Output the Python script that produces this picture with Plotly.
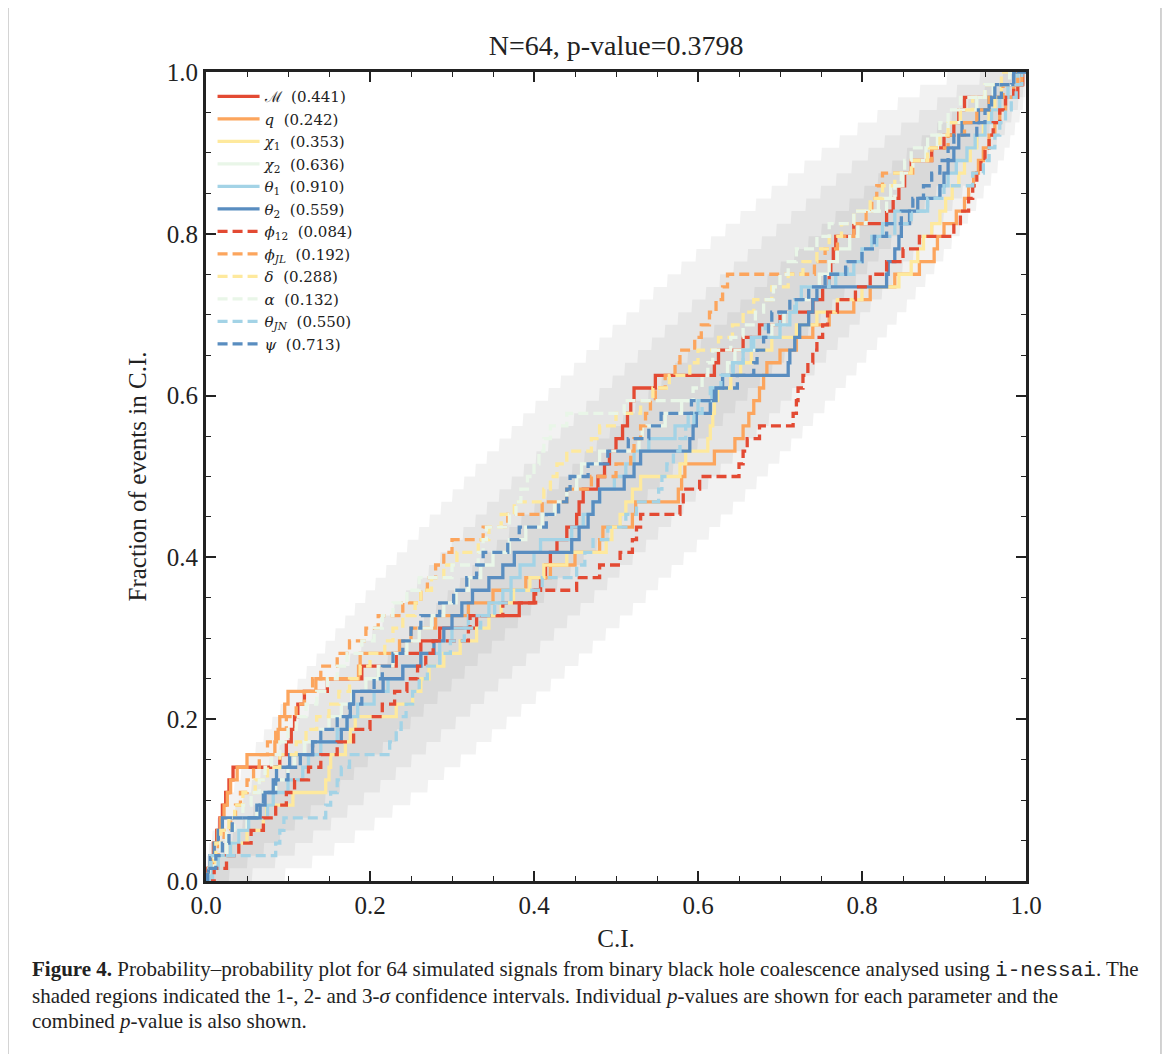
import numpy as np
import plotly.graph_objects as go
from math import comb

# Credible-interval values of the 64 injections, per parameter
n_events = 64
pvalue_total = 0.3798

names = ["ℳ", "<i>q</i>", "<i>χ</i><sub>1</sub>", "<i>χ</i><sub>2</sub>",
         "<i>θ</i><sub>1</sub>", "<i>θ</i><sub>2</sub>", "<i>ϕ</i><sub>12</sub>",
         "<i>ϕ</i><sub><i>JL</i></sub>", "<i>δ</i>", "<i>α</i>",
         "<i>θ</i><sub><i>JN</i></sub>", "<i>ψ</i>"]
pvalues = [0.441, 0.242, 0.353, 0.636, 0.910, 0.559, 0.084, 0.192, 0.288, 0.132, 0.550, 0.713]

ci_chirp_mass = [.002, .006, .009, .013, .017, .020, .024, .028, .033, .090, .098, .104, .108, .112, .120, .148,
                 .190, .232, .262, .285, .330, .382, .400, .408, .414, .420, .428, .440, .452, .455, .460, .478,
                 .486, .492, .500, .508, .514, .518, .522, .548, .620, .625, .655, .675, .700, .740, .752, .760,
                 .762, .765, .768, .790, .830, .838, .845, .852, .860, .885, .900, .912, .918, .925, .990, .996]
ci_q = [.004, .008, .010, .014, .018, .022, .026, .030, .038, .050, .084, .088, .090, .096, .100, .134,
        .186, .188, .236, .250, .280, .320, .350, .390, .420, .450, .480, .484, .520, .524, .576, .580,
        .584, .620, .645, .655, .662, .668, .675, .680, .684, .700, .720, .740, .760, .790, .810, .840,
        .870, .888, .892, .900, .915, .925, .930, .936, .942, .948, .955, .962, .968, .975, .985, .995]
ci_chi1 = [.003, .010, .030, .050, .070, .074, .106, .146, .150, .152, .170, .176, .182, .232, .252, .262,
           .272, .290, .310, .330, .345, .360, .375, .395, .412, .440, .488, .495, .505, .512, .520, .530,
           .578, .585, .612, .615, .618, .620, .624, .640, .652, .665, .690, .720, .745, .770, .800, .845,
           .860, .868, .875, .885, .895, .902, .910, .918, .925, .932, .940, .948, .955, .962, .970, .985]
ci_chi2 = [.005, .015, .025, .040, .050, .062, .070, .085, .100, .108, .120, .140, .150, .165, .178, .195,
           .210, .228, .245, .260, .275, .290, .305, .320, .335, .350, .370, .390, .410, .425, .440, .452,
           .458, .480, .528, .532, .560, .580, .620, .630, .636, .645, .668, .690, .705, .720, .735, .748,
           .760, .770, .785, .795, .805, .820, .835, .850, .862, .878, .892, .905, .920, .940, .960, .985]
ci_theta1 = [.008, .015, .030, .040, .052, .075, .082, .100, .118, .125, .140, .160, .172, .185, .205, .222,
             .240, .262, .285, .300, .320, .345, .362, .372, .383, .400, .408, .446, .460, .472, .480, .498,
             .512, .522, .540, .572, .588, .600, .617, .630, .643, .655, .665, .700, .712, .720, .726, .768,
             .790, .800, .812, .825, .840, .880, .895, .905, .915, .928, .938, .950, .958, .968, .978, .990]
ci_theta2 = [.003, .005, .010, .015, .020, .066, .072, .082, .086, .102, .130, .165, .172, .176, .180, .216,
             .240, .262, .278, .290, .300, .312, .325, .345, .362, .376, .446, .455, .466, .472, .480, .510,
             .522, .530, .590, .594, .598, .615, .622, .630, .710, .712, .718, .724, .735, .740, .745, .830,
             .832, .840, .845, .848, .858, .868, .895, .900, .905, .912, .918, .922, .942, .955, .962, .985]
ci_phi12 = [.010, .025, .040, .055, .070, .085, .098, .108, .125, .140, .160, .180, .200, .215, .230, .245,
            .258, .268, .277, .320, .322, .362, .402, .452, .480, .505, .520, .525, .530, .578, .582, .602,
            .650, .655, .660, .675, .716, .720, .722, .728, .734, .740, .745, .752, .758, .770, .792, .810,
            .830, .850, .870, .912, .920, .930, .935, .940, .945, .950, .955, .960, .968, .975, .985, .995]
ci_phiJL = [.003, .008, .015, .022, .030, .036, .042, .050, .058, .065, .075, .085, .098, .110, .120, .130,
            .140, .160, .175, .195, .210, .240, .262, .270, .280, .290, .300, .338, .368, .410, .440, .470,
            .500, .518, .522, .530, .536, .542, .548, .560, .572, .578, .596, .604, .614, .622, .630, .636,
            .742, .755, .770, .790, .805, .812, .818, .825, .862, .885, .905, .925, .940, .955, .972, .990]
ci_delta = [.002, .006, .012, .018, .028, .035, .045, .060, .075, .090, .110, .122, .135, .150, .162, .175,
            .188, .200, .218, .228, .240, .255, .262, .275, .290, .306, .332, .345, .360, .376, .412, .420,
            .428, .440, .470, .480, .500, .530, .545, .565, .590, .600, .625, .642, .655, .668, .690, .710,
            .728, .745, .760, .775, .790, .810, .825, .840, .860, .880, .895, .905, .920, .935, .950, .970]
ci_alpha = [.004, .010, .018, .025, .034, .045, .055, .065, .072, .080, .090, .100, .110, .122, .135, .148,
            .160, .172, .190, .205, .215, .228, .245, .260, .300, .332, .338, .342, .370, .378, .384, .392,
            .400, .406, .412, .420, .440, .510, .594, .605, .612, .618, .640, .655, .670, .680, .692, .700,
            .710, .720, .745, .760, .790, .830, .840, .848, .852, .860, .880, .895, .905, .920, .950, .980]
ci_thetaJN = [.004, .006, .085, .090, .095, .146, .152, .160, .165, .175, .224, .232, .238, .244, .252, .260,
              .270, .285, .298, .315, .335, .352, .372, .410, .452, .462, .472, .490, .512, .525, .552, .556,
              .562, .570, .578, .585, .595, .605, .615, .628, .642, .655, .668, .682, .700, .718, .735, .760,
              .782, .800, .818, .840, .860, .880, .900, .935, .948, .955, .962, .968, .975, .982, .988, .995]
ci_psi = [.002, .012, .020, .028, .032, .062, .070, .085, .100, .115, .130, .140, .160, .175, .190, .205,
          .215, .228, .240, .250, .262, .285, .302, .318, .330, .338, .368, .382, .415, .430, .440, .444,
          .466, .490, .515, .540, .555, .592, .620, .648, .668, .672, .680, .686, .690, .712, .735, .755,
          .780, .800, .815, .830, .848, .862, .875, .885, .895, .905, .912, .940, .950, .958, .970, .985]

series = [ci_chirp_mass, ci_q, ci_chi1, ci_chi2, ci_theta1, ci_theta2,
          ci_phi12, ci_phiJL, ci_delta, ci_alpha, ci_thetaJN, ci_psi]
colors = ["#e34a33", "#fca55d", "#fee99d", "#e9f6e8", "#a3d3e6", "#598dc0"]

caption_lines = [
    "<b>Figure 4.</b> Probability–probability plot for 64 simulated signals from binary black hole "
    "coalescence analysed using <span style='font-family:Liberation Mono'>i-nessai</span>. The",
    "shaded regions indicated the 1-, 2- and 3-<i>σ</i> confidence intervals. Individual <i>p</i>-values "
    "are shown for each parameter and the",
    "combined <i>p</i>-value is also shown.",
]

fig = go.Figure()

# confidence bands (1, 2, 3 sigma) from the binomial distribution
xg = np.linspace(0, 1, 1001)
kk = np.arange(n_events + 1)
coef = np.array([comb(n_events, k) for k in kk], dtype=float)
pmf = coef[None, :] * xg[:, None] ** kk[None, :] * (1 - xg[:, None]) ** (n_events - kk[None, :])
cdf = np.cumsum(pmf, axis=1)

def ppf(q):
    return np.argmax(cdf >= q - 1e-12, axis=1) / n_events

for ci in [0.997, 0.95, 0.68]:
    edge = (1 - ci) / 2
    upper = ppf(1 - edge)
    lower = ppf(edge)
    upper[0] = 0
    lower[0] = 0
    fig.add_trace(go.Scatter(x=xg, y=upper, mode="lines", line=dict(width=0),
                             showlegend=False, hoverinfo="skip"))
    fig.add_trace(go.Scatter(x=xg, y=lower, mode="lines", line=dict(width=0),
                             fill="tonexty", fillcolor="rgba(0,0,0,0.05)",
                             showlegend=False, hoverinfo="skip"))

# the empirical CDF for every parameter
for i, vals in enumerate(series):
    vals = np.sort(np.array(vals))
    frac = np.arange(1, len(vals) + 1) / len(vals)
    xs = np.concatenate([[0], vals, [1]])
    ys = np.concatenate([[0], frac, [1]])
    fig.add_trace(go.Scatter(
        x=xs, y=ys, mode="lines", line_shape="hv",
        line=dict(color=colors[i % 6], width=3.3, dash="solid" if i < 6 else "10px,5px"),
        name=f"{names[i]}&nbsp;&nbsp;({pvalues[i]:.3f})"))

axis_style = dict(range=[0, 1], showgrid=False, zeroline=False, showline=True,
                  linewidth=3, linecolor="#222", mirror="allticks",
                  ticks="inside", ticklen=10, tickwidth=1.5, tickcolor="#222",
                  dtick=0.2, tick0=0, tickformat=".1f",
                  minor=dict(ticks="inside", ticklen=5, tickwidth=1.2, tickcolor="#222", dtick=0.05),
                  tickfont=dict(size=25, color="#222"))

fig.update_xaxes(**axis_style, title=dict(text="C.I.", font=dict(size=25, color="#222"), standoff=12))
fig.update_yaxes(**axis_style, title=dict(text="Fraction of events in C.I.", font=dict(size=25, color="#222"),
                                          standoff=14))

annotations = []
for j, line in enumerate(caption_lines):
    annotations.append(dict(text=line, xref="paper", yref="paper", x=-0.2146, y=-0.110 - 0.0317 * j,
                            xanchor="left", yanchor="middle", align="left", showarrow=False,
                            font=dict(size=21, color="#222")))

fig.update_layout(
    width=1154, height=1046,
    margin=dict(l=198, r=136, t=64, b=173),
    paper_bgcolor="white", plot_bgcolor="white",
    font=dict(family="Liberation Serif", color="#222"),
    title=dict(text=f"N={n_events}, p-value={pvalue_total}", x=0.527, xanchor="center",
               y=0.9646, yanchor="middle", font=dict(size=28, color="#222")),
    legend=dict(x=0.008, y=0.99, xanchor="left", yanchor="top", bgcolor="rgba(255,255,255,0)",
                font=dict(family="DejaVu Serif", size=15, color="#222"), tracegroupgap=0,
                traceorder="normal", itemwidth=42),
    annotations=annotations,
    shapes=[dict(type="rect", xref="paper", yref="paper", x0=-0.2415, x1=1.1646, y0=-0.3, y1=1.0803,
                 line=dict(color="#c4c4c4", width=1.5), layer="below")],
)

fig.write_html("out.html")
